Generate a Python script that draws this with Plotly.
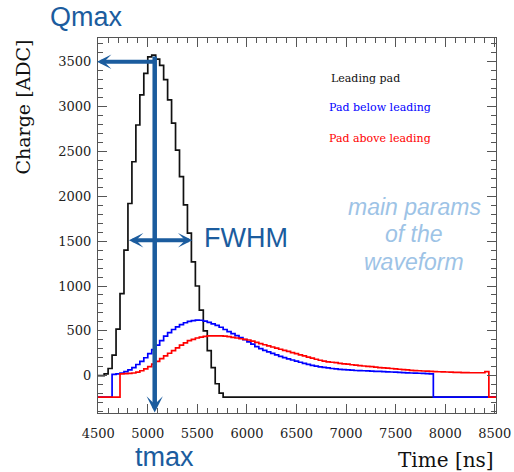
import numpy as np
import plotly.graph_objects as go

# ---- data (bin centres in ns, 40 ns bins) ----
BIN_START = 4500
BIN_WIDTH = 40
N_BINS = 101

leading_pad = [
    0, 0, 20, 80, 230, 520, 915, 1400, 1920, 2385,
    2795, 3130, 3370, 3555, 3575, 3530, 3460, 3300, 3075, 2815,
    2515, 2220, 1905, 1590, 1270, 1000, 730, 500, 280, 90,
    -90, -195, -240, -240, -240, -240, -240, -240, -240, -240,
    -240, -240, -240, -240, -240, -240, -240, -240, -240, -240,
    -240, -240, -240, -240, -240, -240, -240, -240, -240, -240,
    -240, -240, -240, -240, -240, -240, -240, -240, -240, -240,
    -240, -240, -240, -240, -240, -240, -240, -240, -240, -240,
    -240, -240, -240, -240, -240, -240, -240, -240, -240, -240,
    -240, -240, -240, -240, -240, -240, -240, -240, -240, -240,
    -240,
]

pad_below = [
    -240, -240, -240, -240, 15, 20, 30, 45, 65, 90,
    125, 160, 200, 245, 290, 340, 390, 440, 480, 515,
    545, 570, 590, 605, 615, 620, 618, 608, 595, 578,
    560, 540, 515, 492, 470, 447, 425, 402, 378, 352,
    325, 302, 282, 265, 248, 232, 216, 202, 188, 175,
    163, 150, 138, 126, 116, 107, 99, 92, 86, 80,
    75, 71, 67, 64, 61, 58, 56, 55, 53, 51,
    49, 47, 45, 43, 41, 39, 36, 34, 32, 30,
    28, 27, 25, 23, 21, -240, -240, -240, -240, -240,
    -240, -240, -240, -240, -240, -240, -240, -240, -240, -240,
    -240,
]

pad_above = [
    -240, -240, -240, -240, -240, -240, 20, 22, 25, 30,
    40, 55, 75, 100, 130, 160, 190, 220, 250, 280,
    310, 340, 365, 390, 405, 420, 430, 438, 443, 445,
    445, 443, 440, 435, 428, 420, 412, 405, 398, 385,
    372, 358, 345, 333, 320, 307, 295, 282, 270, 257,
    245, 232, 220, 208, 195, 183, 172, 163, 155, 150,
    145, 138, 132, 128, 122, 117, 112, 108, 104, 100,
    95, 91, 88, 85, 80, 76, 72, 68, 65, 60,
    57, 55, 52, 50, 48, 46, 44, 42, 41, 40,
    38, 37, 35, 34, 33, 33, 33, 33, 45, -240,
    -240,
]

X_TICKS = [4500, 5000, 5500, 6000, 6500, 7000, 7500, 8000, 8500]
Y_TICKS = [0, 500, 1000, 1500, 2000, 2500, 3000, 3500]

# annotation parameters (data units)
T_MAX = 5070
Q_MAX = 3500
Q_PEAK = 3575
FWHM_LEFT, FWHM_RIGHT, FWHM_LEVEL = 4795, 5450, 1510

centres = BIN_START + BIN_WIDTH * np.arange(N_BINS)
edges = np.append(centres - BIN_WIDTH / 2, centres[-1] + BIN_WIDTH / 2)


def step(vals):
    v = list(vals)
    return edges, v + [v[-1]]


fig = go.Figure()
for vals, col in [(leading_pad, "#111111"), (pad_below, "#0000ff"), (pad_above, "#ff0000")]:
    xs, ys = step(vals)
    fig.add_trace(go.Scatter(x=xs, y=ys, mode="lines", line=dict(color=col, width=1.7, shape="hv"),
                             hoverinfo="skip", showlegend=False))

ARROW = "#1b5c9e"
serif = "DejaVu Serif"
sans = "Liberation Sans"

axis_common = dict(
    showline=True, linecolor="#555", linewidth=1.3, mirror="allticks",
    ticks="inside", ticklen=9, tickwidth=1.2, tickcolor="#555",
    showgrid=False, zeroline=False, automargin=False,
    tickfont=dict(family=serif, size=13, color="#222"),
)

fig.update_xaxes(range=[4498, 8512], tickvals=X_TICKS, ticklabelstandoff=8,
                 minor=dict(ticks="inside", ticklen=4.5, dtick=100, tick0=4500, tickcolor="#555", tickwidth=1),
                 **axis_common)
fig.update_yaxes(range=[-416, 3765], tickvals=Y_TICKS, ticklabelstandoff=3,
                 minor=dict(ticks="inside", ticklen=4.5, dtick=100, tick0=0, tickcolor="#555", tickwidth=1),
                 **axis_common)

ann = []
# arrows
ann.append(dict(x=T_MAX, y=-410, ax=T_MAX, ay=Q_PEAK, xref="x", yref="y", axref="x", ayref="y",
                text="", showarrow=True, arrowhead=3, arrowsize=0.6, arrowwidth=4.5, arrowcolor=ARROW, standoff=0))
ann.append(dict(x=4488, y=Q_MAX, ax=T_MAX, ay=Q_MAX, xref="x", yref="y", axref="x", ayref="y",
                text="", showarrow=True, arrowhead=3, arrowsize=0.6, arrowwidth=4, arrowcolor=ARROW, standoff=0))
ann.append(dict(x=FWHM_RIGHT, y=FWHM_LEVEL, ax=FWHM_LEFT, ay=FWHM_LEVEL, xref="x", yref="y", axref="x", ayref="y",
                text="", showarrow=True, arrowhead=3, arrowsize=0.6, arrowwidth=4, arrowside="end+start",
                arrowcolor=ARROW, standoff=0, startstandoff=0))

W, H = 514, 472
L, R, T, B = 98, 18, 38, 59
pw, ph = W - L - R, H - T - B


def px(x):
    return (x - L) / pw


def py(y):
    return (H - B - y) / ph


def text(t, x, y, size, color, family, xa="center", ya="middle", angle=0):
    ann.append(dict(text=t, x=px(x), y=py(y), xref="paper", yref="paper", showarrow=False,
                    xanchor=xa, yanchor=ya, textangle=angle,
                    font=dict(family=family, size=size, color=color)))


text("Qmax", 86, 17, 27, ARROW, sans)
text("tmax", 164, 457, 27, ARROW, sans)
text("FWHM", 202, 238, 27, ARROW, sans, xa="left")
text("<i>main params</i>", 414, 207, 23, "#9dc3e6", sans)
text("<i>of the</i>", 414, 234, 23, "#9dc3e6", sans)
text("<i>waveform</i>", 414, 262, 23, "#9dc3e6", sans)
text("Leading pad", 329, 78, 11, "#111111", serif, xa="left")
text("Pad below leading", 327, 108, 11, "#0000ff", serif, xa="left")
text("Pad above leading", 327, 138, 11, "#ff0000", serif, xa="left")
text("Time [ns]", 496, 460, 20, "#111111", serif, xa="right")
text("Charge [ADC]", 22, 38, 19, "#111111", serif, ya="top", angle=-90)

fig.update_layout(
    width=W, height=H, margin=dict(l=L, r=R, t=T, b=B, autoexpand=False),
    plot_bgcolor="white", paper_bgcolor="white",
    annotations=ann, showlegend=False,
)

fig.write_html("out.html", config={"displayModeBar": False},
               post_script="document.body.style.margin='0';document.body.style.overflow='hidden';")
